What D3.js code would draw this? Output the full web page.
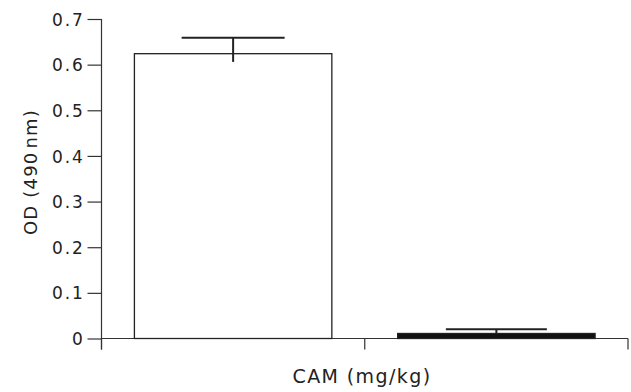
<!DOCTYPE html>
<html>
<head>
<meta charset="utf-8">
<script src="https://cdn.jsdelivr.net/npm/d3@7"></script>
<style>
  html, body { margin: 0; padding: 0; background: #fff; }
  svg { display: block; }
  text { font-family: "DejaVu Sans", sans-serif; fill: #222; }
</style>
</head>
<body>
<svg id="chart" width="631" height="392"></svg>
<script>
const categories = ["Control", "CAM"];
const means = [0.624, 0.011];
const errUpper = [0.659, 0.020];
const errLower = [0.606, 0.011];
const fills = ["#ffffff", "#111111"];
const yTicks = [0, 0.1, 0.2, 0.3, 0.4, 0.5, 0.6, 0.7];
const xTitle = "CAM (mg/kg)";
const yTitle = "OD (490\u200Anm)";

const svg = d3.select("#chart");
const mLeft = 101.5, mRight = 628, mTop = 19, mBottom = 338.5;

const y = d3.scaleLinear().domain([0, 0.7]).range([mBottom, mTop]);
const x = d3.scaleBand().domain(categories).range([mLeft, mRight]).paddingInner(0.25).paddingOuter(0.125);

// y axis
const yAxis = d3.axisLeft(y).tickValues(yTicks).tickSize(14).tickPadding(3)
  .tickFormat(d => d === 0 ? "0" : d3.format(".1f")(d));
const gy = svg.append("g").attr("transform", `translate(${mLeft},0)`).call(yAxis);
gy.select(".domain").remove();
gy.selectAll("line").attr("stroke", "#333").attr("stroke-width", 1.2);
gy.selectAll("text").attr("font-size", 17).attr("letter-spacing", 1.8)
  .attr("font-family", "DejaVu Sans").attr("fill", "#222").attr("dy", "0.36em");
svg.append("line").attr("x1", mLeft).attr("x2", mLeft).attr("y1", mTop).attr("y2", mBottom + 11)
  .attr("stroke", "#333").attr("stroke-width", 1.2);

// x axis baseline and ticks at band boundaries
svg.append("line").attr("x1", mLeft).attr("x2", mRight).attr("y1", mBottom).attr("y2", mBottom)
  .attr("stroke", "#333").attr("stroke-width", 1.2);
const boundaries = [mLeft, mLeft + (mRight - mLeft) / 2, mRight];
svg.selectAll(".xt").data(boundaries).enter().append("line")
  .attr("x1", d => d).attr("x2", d => d).attr("y1", mBottom).attr("y2", mBottom + 11)
  .attr("stroke", "#333").attr("stroke-width", 1.2);

// bars
svg.selectAll(".bar").data(categories).enter().append("rect")
  .attr("x", d => x(d))
  .attr("y", (d, i) => y(means[i]))
  .attr("width", x.bandwidth())
  .attr("height", (d, i) => y(0) - y(means[i]))
  .attr("fill", (d, i) => fills[i])
  .attr("stroke", "#222").attr("stroke-width", 1.3);

// error bars
const capW = [103, 101];
categories.forEach((c, i) => {
  const cx = x(c) + x.bandwidth() / 2;
  svg.append("line").attr("x1", cx).attr("x2", cx)
    .attr("y1", y(errUpper[i])).attr("y2", y(errLower[i]))
    .attr("stroke", "#222").attr("stroke-width", 2);
  svg.append("line").attr("x1", cx - capW[i] / 2).attr("x2", cx + capW[i] / 2)
    .attr("y1", y(errUpper[i])).attr("y2", y(errUpper[i]))
    .attr("stroke", "#222").attr("stroke-width", 2);
});

// titles
svg.append("text").attr("x", 362).attr("y", 383).attr("text-anchor", "middle")
  .attr("font-size", 19).attr("letter-spacing", 1.4).text(xTitle);
svg.append("text").attr("transform", "translate(37,172) rotate(-90)")
  .attr("text-anchor", "middle").attr("font-size", 18).attr("letter-spacing", 1.2).text(yTitle);
</script>
</body>
</html>
